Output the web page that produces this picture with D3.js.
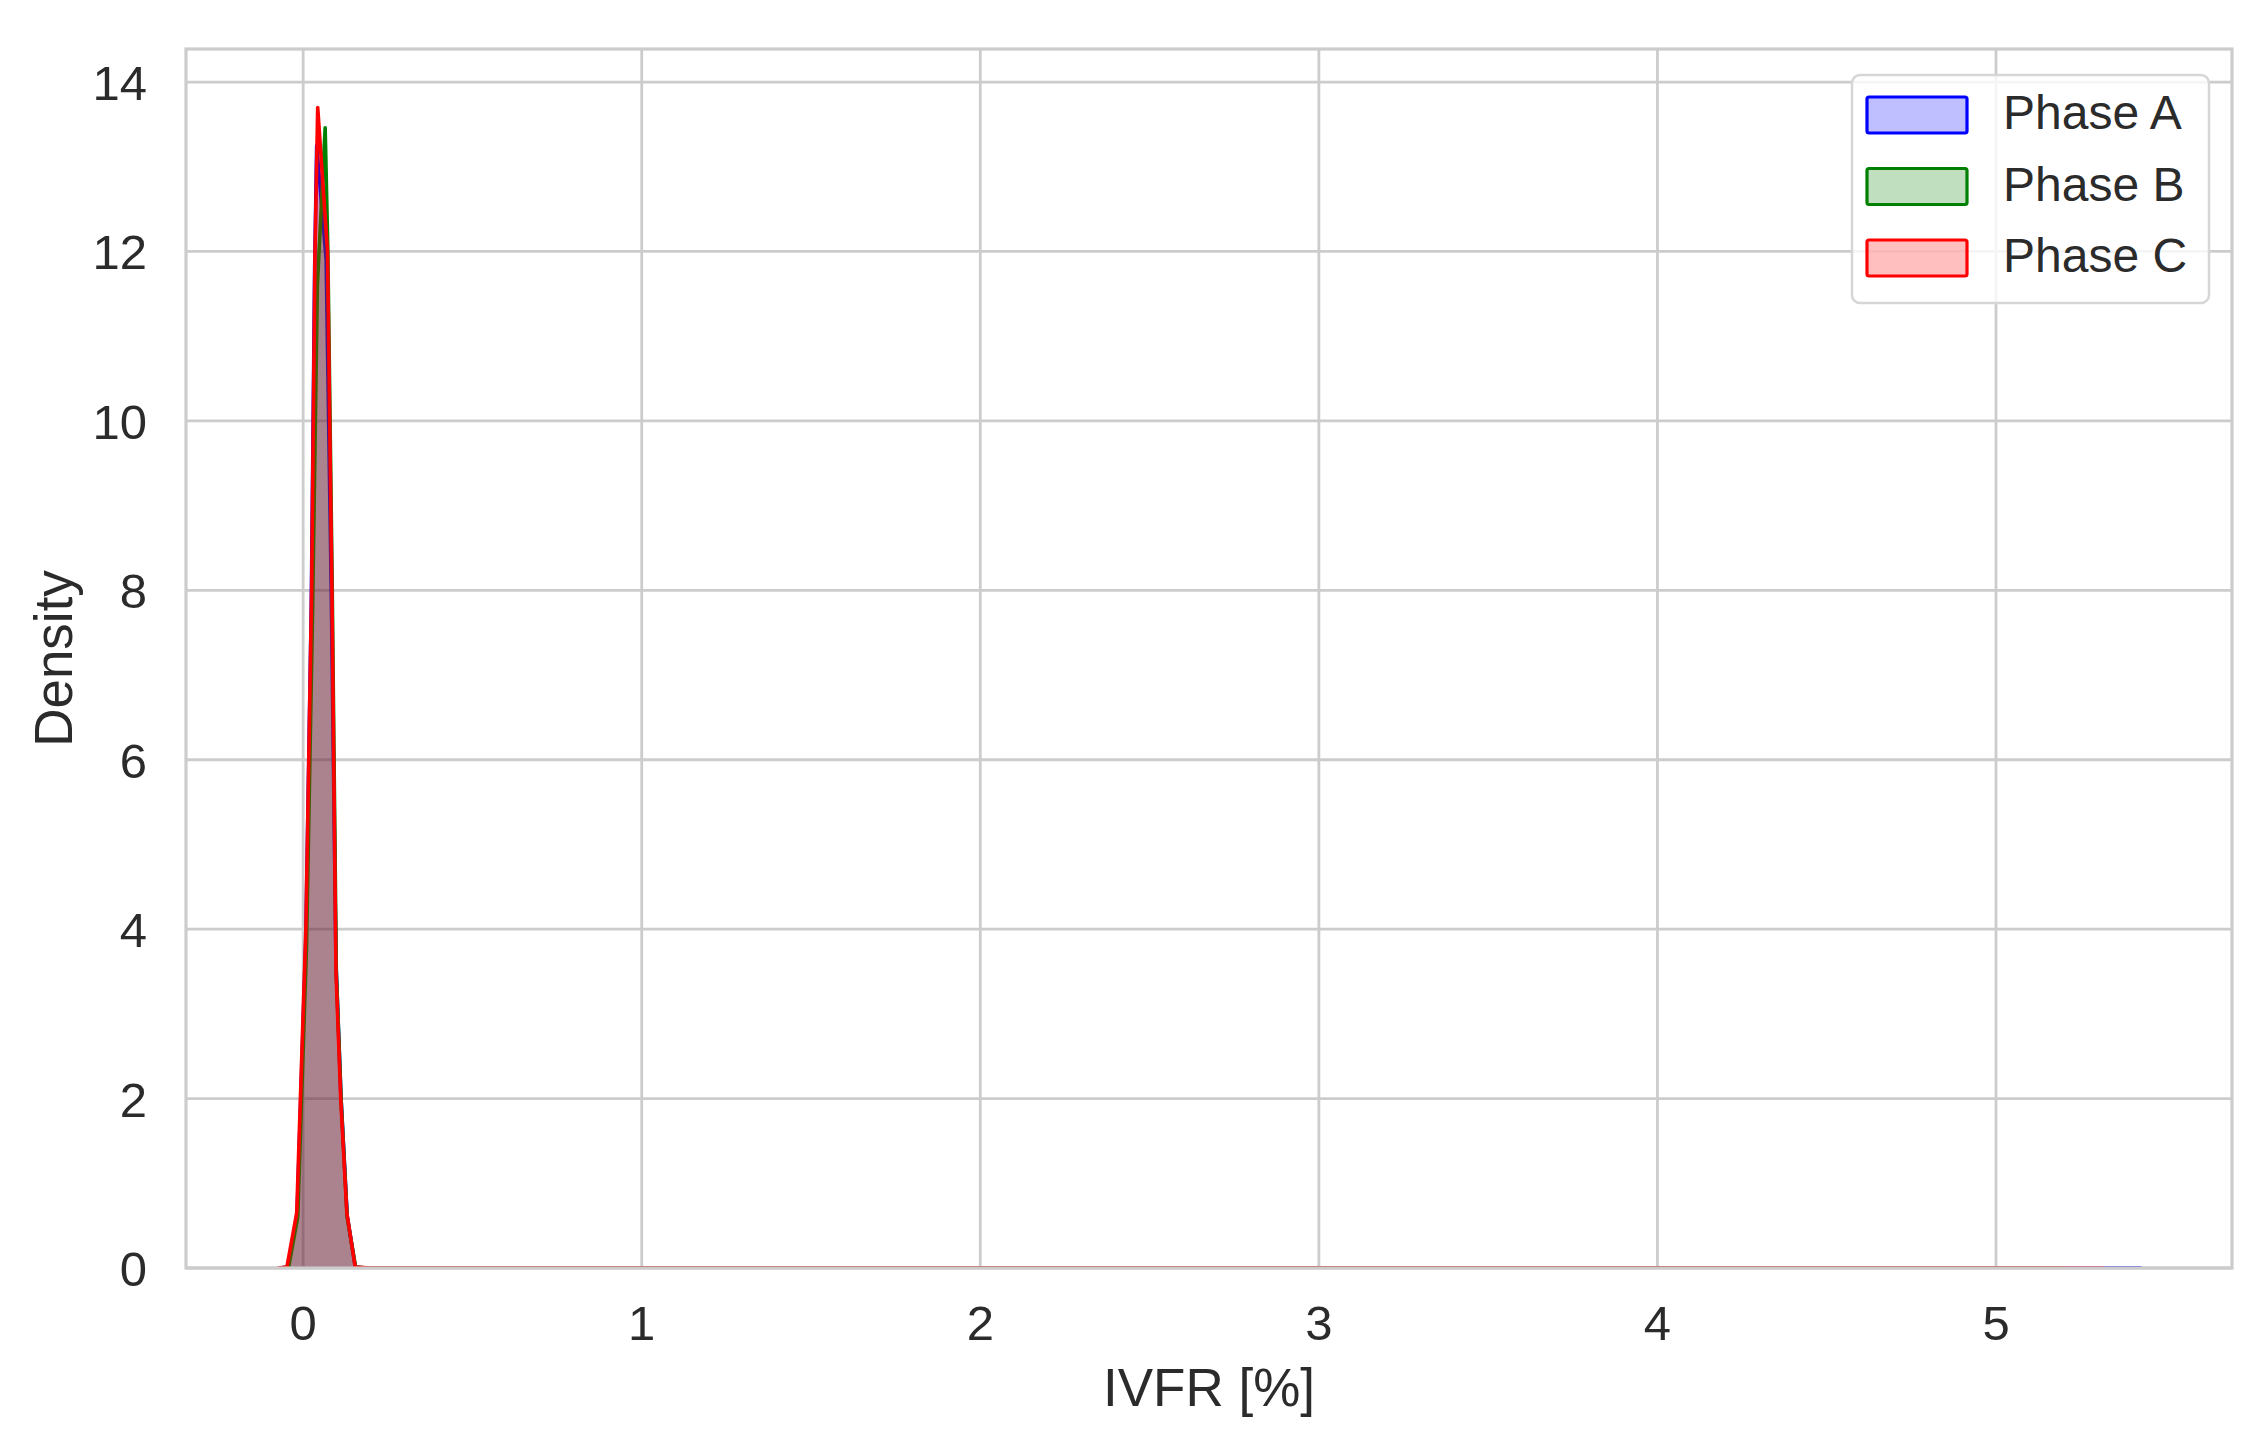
<!DOCTYPE html>
<html>
<head>
<meta charset="utf-8">
<script src="https://cdn.jsdelivr.net/npm/d3@7"></script>
<style>
  html, body { margin: 0; padding: 0; background: #ffffff; }
  svg { display: block; }
  text { font-family: "Liberation Sans", Arial, sans-serif; fill: #2b2b2b; }
</style>
</head>
<body>
<svg id="chart" width="2267" height="1454"></svg>
<script>
// ---- data ----
const seriesNames = ["Phase A", "Phase B", "Phase C"];
const seriesColors = ["#0000ff", "#008000", "#ff0000"];

const xPhaseA = [-0.07, -0.045, -0.018, 0.008, 0.024, 0.034, 0.040, 0.068, 0.083, 0.097, 0.112, 0.130, 0.154, 0.18, 1, 2, 3, 4, 5, 5.43];
const yPhaseA = [0, 0.01, 0.62, 3.9, 7.8, 11.8, 13.25, 11.9, 8.0, 3.6, 2.0, 0.62, 0.01, 0, 0, 0, 0, 0, 0, 0];

const xPhaseB = [-0.066, -0.043, -0.016, 0.010, 0.028, 0.042, 0.065, 0.073, 0.086, 0.098, 0.112, 0.130, 0.155, 0.19, 1, 2, 3, 4, 5, 5.2];
const yPhaseB = [0, 0.01, 0.6, 3.8, 7.8, 11.6, 13.46, 12.0, 8.0, 3.5, 2.0, 0.6, 0.01, 0, 0, 0, 0, 0, 0, 0];

const xPhaseC = [-0.075, -0.048, -0.019, 0.008, 0.025, 0.035, 0.043, 0.072, 0.085, 0.097, 0.111, 0.129, 0.154, 0.2, 1, 2, 3, 4, 5, 5.32];
const yPhaseC = [0, 0.01, 0.65, 4.0, 8.0, 12.0, 13.7, 12.0, 8.0, 3.5, 2.0, 0.65, 0.01, 0, 0, 0, 0, 0, 0, 0];

const xTicks = [0, 1, 2, 3, 4, 5];
const yTicks = [0, 2, 4, 6, 8, 10, 12, 14];
const xLabel = "IVFR [%]";
const yLabel = "Density";

// ---- layout ----
const plot = { left: 186, right: 2232, top: 49, bottom: 1268 };
const svg = d3.select("#chart");

const x = d3.scaleLinear().domain([-0.346, 5.697]).range([plot.left, plot.right]);
const y = d3.scaleLinear().domain([0, 14.39]).range([plot.bottom, plot.top]);

const gridColor = "#cccccc";

// gridlines
const gx = svg.append("g");
gx.selectAll("line.vx").data(xTicks).join("line")
  .attr("x1", d => x(d)).attr("x2", d => x(d))
  .attr("y1", plot.top).attr("y2", plot.bottom)
  .attr("stroke", gridColor).attr("stroke-width", 2.8);
gx.selectAll("line.hy").data(yTicks).join("line")
  .attr("x1", plot.left).attr("x2", plot.right)
  .attr("y1", d => y(d)).attr("y2", d => y(d))
  .attr("stroke", gridColor).attr("stroke-width", 2.8);

// clip
svg.append("defs").append("clipPath").attr("id", "clip")
  .append("rect").attr("x", plot.left).attr("y", plot.top)
  .attr("width", plot.right - plot.left).attr("height", plot.bottom - plot.top);

const seriesX = [xPhaseA, xPhaseB, xPhaseC];
const seriesY = [yPhaseA, yPhaseB, yPhaseC];

const area = d3.area().x(d => x(d[0])).y0(y(0)).y1(d => y(d[1]));
const line = d3.line().x(d => x(d[0])).y(d => y(d[1]));

const gData = svg.append("g").attr("clip-path", "url(#clip)");
seriesNames.forEach((name, i) => {
  const pts = seriesX[i].map((v, j) => [v, seriesY[i][j]]);
  gData.append("path").attr("d", area(pts))
    .attr("fill", seriesColors[i]).attr("fill-opacity", 0.25).attr("stroke", "none");
  gData.append("path").attr("d", line(pts))
    .attr("fill", "none").attr("stroke", seriesColors[i])
    .attr("stroke-width", 3.6).attr("stroke-linejoin", "round");
});

// frame
svg.append("rect").attr("x", plot.left).attr("y", plot.top)
  .attr("width", plot.right - plot.left).attr("height", plot.bottom - plot.top)
  .attr("fill", "none").attr("stroke", gridColor).attr("stroke-width", 3.2);

// tick labels
svg.append("g").selectAll("text").data(xTicks).join("text")
  .attr("x", d => x(d)).attr("y", 1340)
  .attr("text-anchor", "middle").attr("font-size", 49)
  .text(d => d);
svg.append("g").selectAll("text").data(yTicks).join("text")
  .attr("x", 147).attr("y", d => y(d) + 18)
  .attr("text-anchor", "end").attr("font-size", 49)
  .text(d => d);

// axis labels
svg.append("text").attr("x", (plot.left + plot.right) / 2).attr("y", 1406)
  .attr("text-anchor", "middle").attr("font-size", 53).text(xLabel);
svg.append("text")
  .attr("transform", `translate(72, ${(plot.top + plot.bottom) / 2}) rotate(-90)`)
  .attr("text-anchor", "middle").attr("font-size", 53).text(yLabel);

// legend
const lg = svg.append("g");
lg.append("rect").attr("x", 1852).attr("y", 75).attr("width", 357).attr("height", 228)
  .attr("rx", 8).attr("ry", 8)
  .attr("fill", "#ffffff").attr("fill-opacity", 0.8)
  .attr("stroke", "#d6d6d6").attr("stroke-width", 2.5);
seriesNames.forEach((name, i) => {
  const top = 97 + i * 71.5;
  lg.append("rect").attr("x", 1867).attr("y", top).attr("width", 100).attr("height", 36)
    .attr("rx", 2)
    .attr("fill", seriesColors[i]).attr("fill-opacity", 0.25)
    .attr("stroke", seriesColors[i]).attr("stroke-width", 3.2);
  lg.append("text").attr("x", 2003).attr("y", top + 32)
    .attr("font-size", 48).text(name);
});
</script>
</body>
</html>
